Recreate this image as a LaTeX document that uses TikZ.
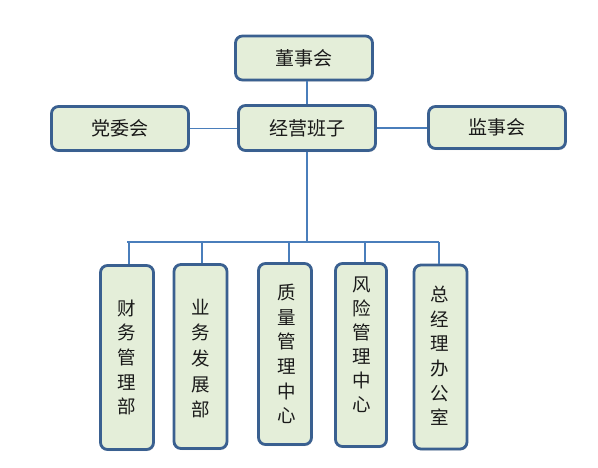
\documentclass[tikz,border=0pt]{standalone}
\usepackage{fontspec}
\newfontfamily\cjk{Noto Sans CJK SC}
\usetikzlibrary{shadows}
\definecolor{boxline}{HTML}{3A6090}
\definecolor{conncol}{HTML}{4A7EBB}
\definecolor{cin}{HTML}{E4EED9}
\definecolor{cout}{HTML}{BECBAF}
\definecolor{txt}{HTML}{1A1A1A}
\pgfdeclareradialshading{boxsh}{\pgfpoint{0bp}{0bp}}{color(0bp)=(cin); color(40bp)=(cin); color(50bp)=(cout); color(100bp)=(cout)}
\tikzset{
  box/.style={draw=boxline, line width=2.8pt, rounded corners=7pt, shading=boxsh,
    drop shadow={opacity=0.25, shadow xshift=1pt, shadow yshift=-1.5pt},
    inner sep=0pt, text=txt, font=\cjk\fontsize{19}{24}\selectfont},
  hbox/.style={box, minimum width=137pt, minimum height=44pt},
  vbox/.style={box, minimum width=53pt, minimum height=184pt},
  vtext/.style={inner sep=0pt, align=center, text=txt, font=\cjk\fontsize{18.5}{24.6}\selectfont},
  conn/.style={draw=conncol, line width=1.2pt}
}
\begin{document}
\begin{tikzpicture}[x=1pt,y=-1pt]
\useasboundingbox (0,0) rectangle (598,467);
% top level
\node[hbox] (ds) at (304,58) {董事会};
\node[hbox, minimum height=45pt] (jy) at (307,128) {经营班子};
\node[hbox] (dw) at (120,128.5) {党委会};
\node[hbox, minimum height=42pt] (js) at (497,127.5) {监事会};
% bottom boxes
\node[vbox] (cw) at (127,357.5) {};
\node[vbox] (yw) at (200.5,356.5) {};
\node[vbox, minimum height=181pt] (zl) at (285,354) {};
\node[vbox, minimum width=51pt, minimum height=183pt] (fx) at (361,355) {};
\node[vbox] (zj) at (440.5,357) {};
\node[vtext] (tcw) at (127,357.5) {财\\务\\管\\理\\部};
\node[vtext, font=\cjk\fontsize{18.5}{25.6}\selectfont] (tyw) at (200.5,358.5) {业\\务\\发\\展\\部};
\node[vtext] (tzl) at (287,354) {质\\量\\管\\理\\中\\心};
\node[vtext, font=\cjk\fontsize{18.5}{24}\selectfont] (tfx) at (362,345) {风\\险\\管\\理\\中\\心};
\node[vtext] (tzj) at (440,356) {总\\经\\理\\办\\公\\室};
% bus coordinates
\coordinate (b1) at (129,242);
\coordinate (b2) at (202,242);
\coordinate (b3) at (289,242);
\coordinate (b4) at (365,242);
\coordinate (b5) at (439,242);
\coordinate (bl) at (127,242);
% connectors
\draw[conn] (jy.north) -- (jy.north |- ds.south);
\draw[conn] (dw.east) -- (dw.east -| jy.west);
\draw[conn] (jy.east) -- (jy.east -| js.west);
\draw[conn] (jy.south) -- (jy.south |- bl);
\draw[conn] (bl) -- (b5);
\draw[conn] (b1) -- (b1 |- cw.north);
\draw[conn] (b2) -- (b2 |- yw.north);
\draw[conn] (b3) -- (b3 |- zl.north);
\draw[conn] (b4) -- (b4 |- fx.north);
\draw[conn] (b5) -- (b5 |- zj.north);
\end{tikzpicture}
\end{document}
